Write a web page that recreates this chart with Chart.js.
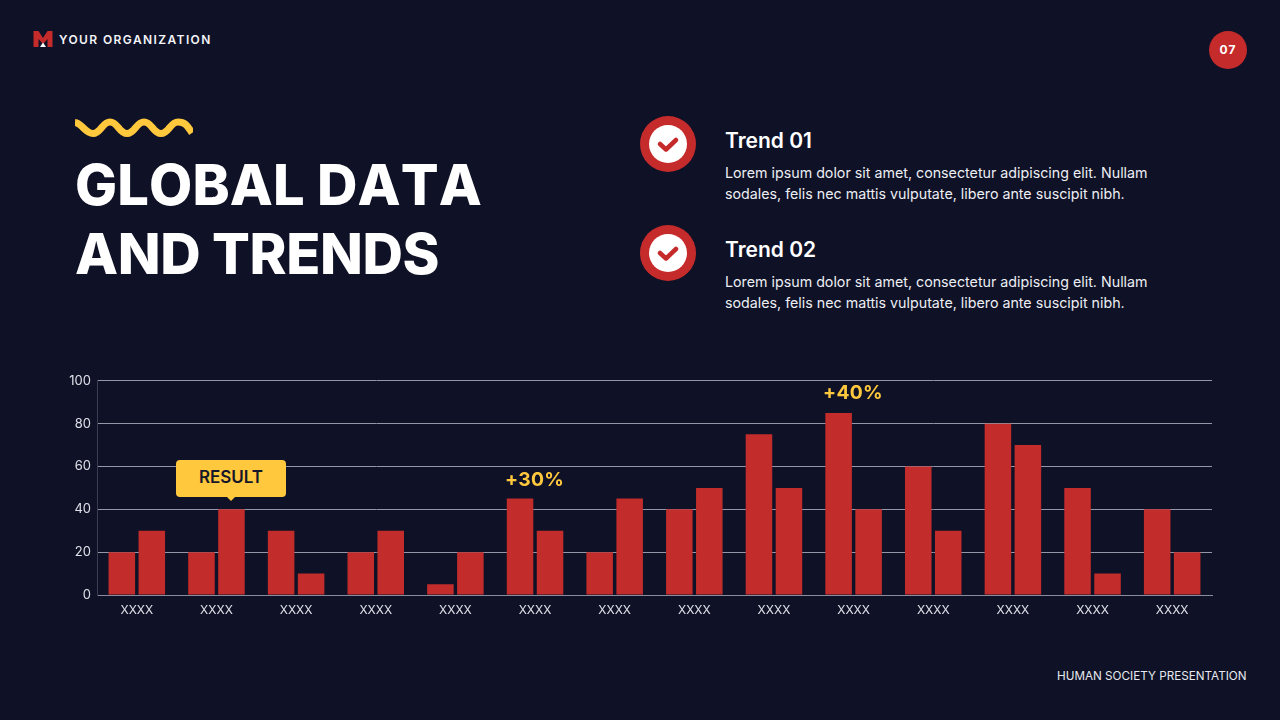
<!DOCTYPE html>
<html>
<head>
<meta charset="utf-8">
<script src="https://cdn.jsdelivr.net/npm/chart.js@4"></script>
<style>
html,body{margin:0;padding:0;}
body{width:1280px;height:720px;background:#0f1126;overflow:hidden;position:relative;font-family:Inter,sans-serif;color:#fff;}
.abs{position:absolute;white-space:nowrap;}
.org{left:59px;top:32px;font-size:12px;font-weight:600;letter-spacing:1.4px;line-height:15px;color:#f3f4f8;}
.page{left:1209px;top:31px;width:38px;height:38px;border-radius:50%;background:#c62b2b;font-size:12px;font-weight:700;letter-spacing:1px;line-height:38px;text-align:center;}
.title{left:75px;font-size:56px;font-weight:800;line-height:68px;font-kerning:none;}
.trend{left:725px;font-size:21px;font-weight:600;line-height:26px;}
.desc{left:725px;font-size:14.25px;line-height:21px;color:#eceef4;}
.foot{left:1057px;top:668px;font-size:11.7px;line-height:16px;color:#e6e8ef;}
.gain{font-size:19.3px;font-weight:700;color:#ffc83d;line-height:24px;letter-spacing:.3px;}
.result{left:176px;top:460px;width:110px;height:37px;border-radius:4px;background:#ffc83d;color:#17172a;font-size:17px;font-weight:600;line-height:35px;text-align:center;}
.result:after{content:"";position:absolute;left:50px;top:36px;border:5px solid transparent;border-top-color:#ffc83d;border-bottom:0;}
#wrap{position:absolute;left:60px;top:367px;width:1170px;height:263px;}
</style>
</head>
<body>
<svg class="abs" style="left:33px;top:30px" width="20" height="18" viewBox="0 0 20 18">
  <path d="M0.5 1H5.5L10 8L14.5 1H19.5V17H14.5V9L10 14L5.5 9V17H0.5Z" fill="#c62b2b"/>
  <path d="M10 12.500L13 17H7Z" fill="#fff"/>
</svg>
<div class="abs org">YOUR ORGANIZATION</div>
<div class="abs page">07</div>

<svg class="abs" style="left:75px;top:118px" width="118" height="20" viewBox="0 0 118 20">
  <path d="M0 4.500C7 5 10 15.500 18 15.500C26 15.500 27 4 35 4C43 4 44 15.500 52 15.500C60 15.500 61 4 69 4C77 4 78 15.500 86 15.500C94 15.500 95 4 103 4C111 4 113 9 117 15" fill="none" stroke="#ffc83d" stroke-width="7"/>
</svg>
<div class="abs title" style="top:151px;letter-spacing:0.1px">GLOBAL DATA</div>
<div class="abs title" style="top:220px;letter-spacing:-0.4px">AND TRENDS</div>

<svg class="abs" style="left:640px;top:116px" width="56" height="56" viewBox="0 0 56 56">
  <circle cx="28" cy="28" r="28" fill="#c62b2b"/><circle cx="28" cy="28" r="19" fill="#fff"/>
  <path d="M20 28L26 33.500L36 24" fill="none" stroke="#c62b2b" stroke-width="4.500" stroke-linecap="round" stroke-linejoin="round"/>
</svg>
<div class="abs trend" style="top:128px">Trend 01</div>
<div class="abs desc" style="top:162px">Lorem ipsum dolor sit amet, consectetur adipiscing elit. Nullam<br>sodales, felis nec mattis vulputate, libero ante suscipit nibh.</div>

<svg class="abs" style="left:640px;top:225px" width="56" height="56" viewBox="0 0 56 56">
  <circle cx="28" cy="28" r="28" fill="#c62b2b"/><circle cx="28" cy="28" r="19" fill="#fff"/>
  <path d="M20 28L26 33.500L36 24" fill="none" stroke="#c62b2b" stroke-width="4.500" stroke-linecap="round" stroke-linejoin="round"/>
</svg>
<div class="abs trend" style="top:237px">Trend 02</div>
<div class="abs desc" style="top:271px">Lorem ipsum dolor sit amet, consectetur adipiscing elit. Nullam<br>sodales, felis nec mattis vulputate, libero ante suscipit nibh.</div>

<div id="wrap"><canvas id="chart" width="1170" height="263"></canvas></div>

<div class="abs result">RESULT</div>
<div class="abs gain" style="left:505px;top:467px">+30%</div>
<div class="abs gain" style="left:823px;top:380px">+40%</div>
<div class="abs foot">HUMAN SOCIETY PRESENTATION</div>

<script>
const categories=['XXXX','XXXX','XXXX','XXXX','XXXX','XXXX','XXXX','XXXX','XXXX','XXXX','XXXX','XXXX','XXXX','XXXX'];
const seriesA=[20,20,30,20,5,45,20,40,75,85,60,80,50,40];
const seriesB=[30,40,10,30,20,30,45,50,50,40,30,70,10,20];
const barRed='#c22c2b';
const tickColor='#dfe1ea';

Chart.defaults.font.family='Inter, sans-serif';
new Chart(document.getElementById('chart'),{
  type:'bar',
  data:{labels:categories,datasets:[
    {label:'A',data:seriesA,backgroundColor:barRed},
    {label:'B',data:seriesB,backgroundColor:barRed}
  ]},
  options:{
    responsive:false,animation:false,
    layout:{padding:{top:7,right:18,bottom:0,left:0}},
    datasets:{bar:{categoryPercentage:0.753,barPercentage:0.885}},
    plugins:{legend:{display:false},tooltip:{enabled:false}},
    scales:{
      x:{
        grid:{display:false},
        border:{color:'#8b8d9e',width:1},
        ticks:{color:tickColor,font:{size:12},maxRotation:0,autoSkip:false,padding:0},
        afterFit(s){s.height=35;}
      },
      y:{
        min:0,max:100,
        grid:{color:'#9597a7',lineWidth:1,drawTicks:false},
        border:{color:'#3a3c52',width:1},
        ticks:{stepSize:20,color:tickColor,font:{size:13},padding:6},
        afterFit(s){s.width=37;}
      }
    }
  }
});
</script>
</body>
</html>
